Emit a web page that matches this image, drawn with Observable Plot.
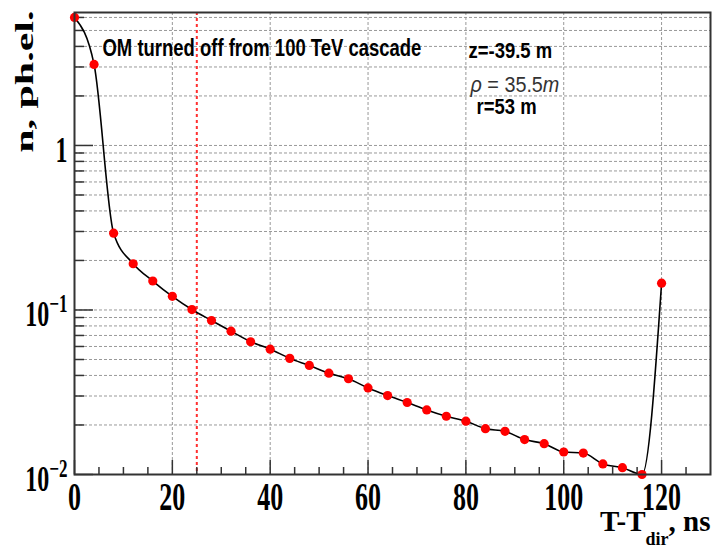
<!DOCTYPE html>
<html><head><meta charset="utf-8">
<script src="https://cdn.jsdelivr.net/npm/d3@7"></script>
<script src="https://cdn.jsdelivr.net/npm/@observablehq/plot@0.6"></script>
<style>body{margin:0;background:#fff;}</style>
</head><body><div id="chart"></div>
<script>
const times = [0,4,8,12,16,20,24,28,32,36,40,44,48,52,56,60,64,68,72,76,80,84,88,92,96,100,104,108,112,116,120];
const amps = [6.0,3.11,0.293,0.191,0.150,0.121,0.1006,0.0863,0.0743,0.0641,0.0578,0.0508,0.0460,0.0413,0.0382,0.0336,0.0302,0.0274,0.0247,0.0226,0.0211,0.0190,0.0183,0.0163,0.0154,0.0137,0.0135,0.0116,0.0110,0.0100,0.1455];
const xMajorTicks = [0,20,40,60,80,100,120];
const xMinorTicks = [5,10,15,25,30,35,45,50,55,65,70,75,85,90,95,105,110,115,125];
const xGrid = [20,40,60,80,100,120];
const yMajorTicks = [0.01,0.1,1];
const yMinorTicks = [0.02,0.03,0.04,0.05,0.06,0.07,0.08,0.09,0.2,0.3,0.4,0.5,0.6,0.7,0.8,0.9,2,3,4,5,6];
const yGrid = [0.02,0.03,0.04,0.05,0.06,0.07,0.08,0.09,0.1,0.2,0.3,0.4,0.5,0.6,0.7,0.8,0.9,1,2,3,4,5,6];
const cutTime = [25];
const titleText = "OM turned off from 100 TeV cascade";
const zText = "z=-39.5 m";
const rhoText = "ρ = 35.5m";
const rText = "r=53 m";
const yTitle = "n, ph.el.";
const xTitleMain = "T-T", xTitleSub = "dir", xTitleEnd = ", ns";

const W = 712, H = 554, ML = 74, MR = 2, MT = 12, MB = 80;
const FW = W - ML - MR, FH = H - MT - MB;
const pts = times.map((t, i) => ({t, a: amps[i]}));
const serif = "'Liberation Serif', 'Times New Roman', serif";
const sans = "'Liberation Sans', Arial, sans-serif";
const gridStyle = {stroke: "#999", strokeDasharray: "3,2", strokeWidth: 1};

const chart = Plot.plot({
  width: W, height: H,
  marginLeft: ML, marginRight: MR, marginTop: MT, marginBottom: MB,
  style: {fontFamily: serif, background: "white", color: "black"},
  x: {domain: [0, 130], label: null},
  y: {type: "log", domain: [0.01, 6.43], label: null},
  marks: [
    Plot.ruleY(yGrid, gridStyle),
    Plot.ruleX(xGrid, gridStyle),
    Plot.ruleX(cutTime, {stroke: "#ff3030", strokeDasharray: "3,3", strokeWidth: 2}),
    Plot.ruleX(xMajorTicks, {insetTop: FH - 14, stroke: "#333", strokeWidth: 1.5}),
    Plot.ruleX(xMinorTicks, {insetTop: FH - 7, stroke: "#333", strokeWidth: 1.5}),
    Plot.ruleY(yMajorTicks, {insetRight: FW - 19, stroke: "#333", strokeWidth: 1.5}),
    Plot.ruleY(yMinorTicks, {insetRight: FW - 10, stroke: "#333", strokeWidth: 1.5}),
    Plot.line(pts, {x: "t", y: "a", curve: "monotone-x", stroke: "black", strokeWidth: 1.6}),
    Plot.dot(pts, {x: "t", y: "a", r: 4.6, fill: "#ff0000", stroke: "none"}),
    Plot.frame({stroke: "#333", strokeWidth: 2}),
    Plot.axisX({ticks: xMajorTicks, tickSize: 0, tickPadding: 7, fontSize: 26, fontWeight: "bold", fontFamily: serif, tickFormat: d => String(d)}),
    Plot.axisY({ticks: yMajorTicks, tickSize: 0, tickPadding: 7, dy: 5, fontSize: 24, fontWeight: "bold", fontFamily: serif,
      tickFormat: d => d === 1 ? "1" : "10|" + Math.round(Math.log10(d))}),
    Plot.text([yTitle], {text: d => d, frameAnchor: "top-left", rotate: -90, textAnchor: "end", lineAnchor: "bottom",
      dx: -42, dy: -2, fontSize: 25, fontWeight: "bold", fontFamily: serif, fill: "black"}),
    Plot.text([xTitleMain], {text: d => d, frameAnchor: "bottom-right", textAnchor: "end", lineAnchor: "bottom",
      dx: 0, dy: 56, fontSize: 29, fontWeight: "bold", fontFamily: serif, fill: "black"}),
    Plot.text([titleText], {text: d => d, frameAnchor: "top-left", textAnchor: "start", lineAnchor: "bottom",
      dx: 28, dy: 43, fontSize: 24, fontWeight: "bold", fontFamily: sans, fill: "black"}),
    Plot.text([zText], {text: d => d, frameAnchor: "top-left", textAnchor: "start", lineAnchor: "bottom",
      dx: 394, dy: 45, fontSize: 22, fontWeight: "bold", fontFamily: sans, fill: "black"}),
    Plot.text([rhoText], {text: d => d, frameAnchor: "top-left", textAnchor: "start", lineAnchor: "bottom",
      dx: 396, dy: 79, fontSize: 22, fontWeight: "normal", fontFamily: sans, fill: "#333"}),
    Plot.text([rText], {text: d => d, frameAnchor: "top-left", textAnchor: "start", lineAnchor: "bottom",
      dx: 402, dy: 101, fontSize: 22, fontWeight: "bold", fontFamily: sans, fill: "black"})
  ]
});
document.getElementById("chart").appendChild(chart);

const NS = "http://www.w3.org/2000/svg";
function addT(el, t) { el.setAttribute("transform", ((el.getAttribute("transform") || "") + " " + t).trim()); }
function span(txt, attrs) {
  const s = document.createElementNS(NS, "tspan");
  for (const k in attrs) s.setAttribute(k, attrs[k]);
  s.textContent = txt;
  return s;
}
chart.querySelectorAll('g[aria-label="x-axis tick label"] text').forEach(t => addT(t, "scale(1,1.55)"));
chart.querySelectorAll('g[aria-label="y-axis tick label"] text').forEach(t => {
  const s = t.textContent;
  if (s.includes("|")) {
    const [b, e] = s.split("|");
    t.textContent = b;
    t.appendChild(span(e.replace("-", "\u2212"), {"font-size": 17, dy: -9.6}));
  }
  addT(t, "scale(1,1.45)");
});
chart.querySelectorAll("text").forEach(t => {
  const c = t.textContent;
  if (c === yTitle) addT(t, "scale(1.68,1)");
  else if (c === xTitleMain) {
    t.appendChild(span(xTitleSub, {"font-size": 18, dy: 14}));
    t.appendChild(span(xTitleEnd, {dy: -14}));
  } else if (c === titleText) addT(t, "scale(0.77,1)");
  else if (c === zText || c === rText) addT(t, "scale(0.84,1)");
  else if (c === rhoText) {
    t.textContent = "";
    t.appendChild(span("ρ", {"font-style": "italic"}));
    t.appendChild(span(" = 35.5", {}));
    t.appendChild(span("m", {"font-style": "italic"}));
    addT(t, "scale(0.9,1)");
  }
});
</script>
</body></html>
